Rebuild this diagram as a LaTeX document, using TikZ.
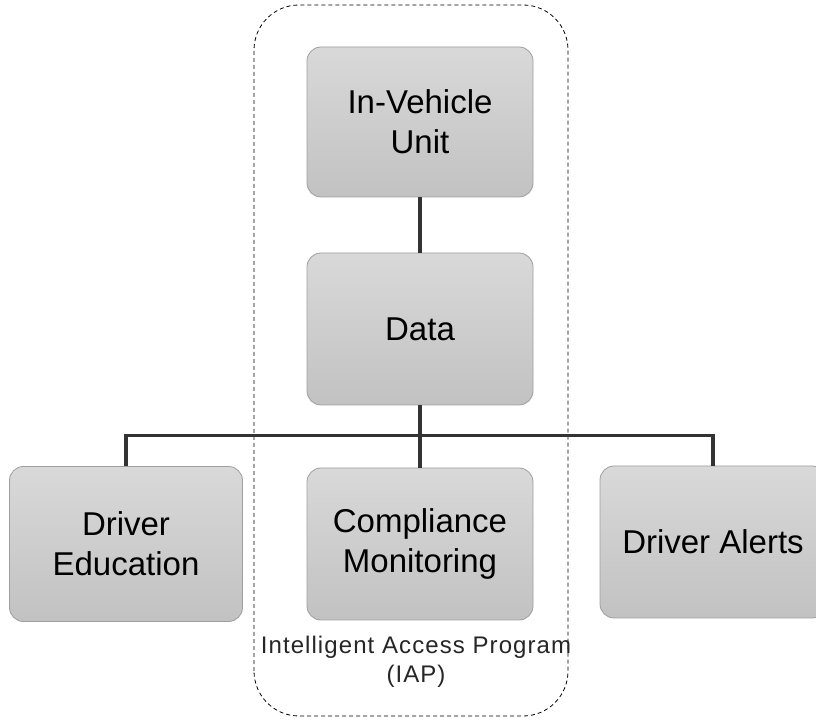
\documentclass[tikz,border=0pt]{standalone}
\usepackage{fontspec}
\setmainfont{Liberation Sans}
\usetikzlibrary{positioning}
\tikzset{
	unit/.style={draw=gray!75,line width=0.8pt,rounded corners=14pt,top color=gray!30,bottom color=gray!48,
		minimum width=226pt,minimum height=152pt,align=center,font=\fontsize{33}{40}\selectfont},
	link/.style={line width=3.5pt,draw=black!80},
	frame/.style={dash pattern=on 4pt off 3pt,line width=0.8pt,rounded corners=45pt}
}
\begin{document}
\begin{tikzpicture}[x=1pt,y=1pt]
	\clip (0,0) rectangle (816,720);
	\fill[white] (0,0) rectangle (816,720);
	% IAP boundary
	\draw[frame] (254,4) rectangle (568,715);
	\node[unit,minimum height=150pt] (ivu) at (420,598) {In-Vehicle\\Unit};
	\node[unit] (data) at (420,391) {Data};
	\node[unit,minimum width=233pt,minimum height=155pt] (edu) at (126,176) {Driver\\Education};
	\node[unit] (comp) at (420,176) {Compliance\\Monitoring};
	\node[unit] (alerts) at (713,178) {Driver Alerts};
	\node[align=center,text=black!85,font=\fontsize{24}{29}\selectfont\addfontfeature{LetterSpace=4.5}] (iap) at (416,58) {Intelligent Access Program\\(IAP)};
	% connectors
	\draw[link] (ivu) -- (data);
	\draw[link] (data.south) -- ++(0,-30) coordinate (bus);
	\draw[link] (edu.north) |- (bus) -| (alerts.north);
	\draw[link] (bus) -- (comp.north);
\end{tikzpicture}
\end{document}
